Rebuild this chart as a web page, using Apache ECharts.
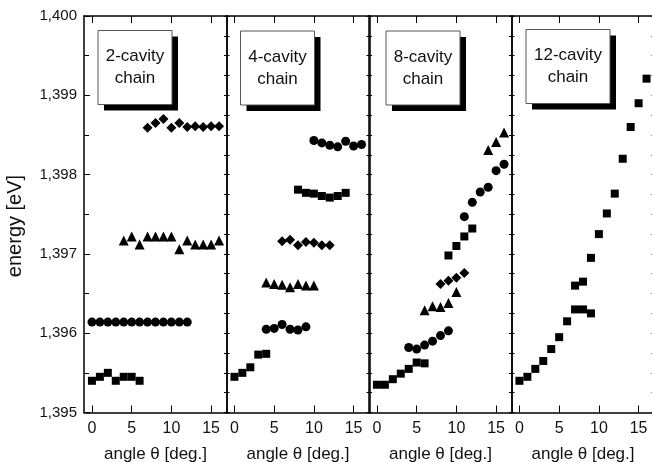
<!DOCTYPE html>
<html>
<head>
<meta charset="utf-8">
<script src="https://cdn.jsdelivr.net/npm/echarts@6/dist/echarts.min.js"></script>
<style>
  html, body { margin: 0; padding: 0; background: #fff; }
  #chart { width: 652px; height: 462px; }
</style>
</head>
<body>
<div id="chart"></div>
<script>
(function() {
    var font = "'Liberation Sans', Arial, sans-serif";
    var ink = '#111';

    // --- data: [angle, energy] ---
    var xTicks = [0, 5, 10, 15];
    var yTicks = [1.395, 1.396, 1.397, 1.398, 1.399, 1.400];
    var panelLabels = ['2-cavity\nchain', '4-cavity\nchain', '8-cavity\nchain', '12-cavity\nchain'];

    // 2-cavity chain
    var c2Square = [[0, 1.3954], [1, 1.39545], [2, 1.3955], [3, 1.3954], [4, 1.39545], [5, 1.39545], [6, 1.3954]];
    var c2Circle = [[0, 1.39614], [1, 1.39614], [2, 1.39614], [3, 1.39614], [4, 1.39614], [5, 1.39614], [6, 1.39614],
                    [7, 1.39614], [8, 1.39614], [9, 1.39614], [10, 1.39614], [11, 1.39614], [12, 1.39614]];
    var c2Triangle = [[4, 1.39717], [5, 1.39722], [6, 1.39712], [7, 1.39722], [8, 1.39722], [9, 1.39722], [10, 1.39722],
                      [11, 1.39706], [12, 1.39717], [13, 1.39712], [14, 1.39712], [15, 1.39712], [16, 1.39717]];
    var c2Diamond = [[7, 1.39859], [8, 1.39865], [9, 1.3987], [10, 1.39859], [11, 1.39865], [12, 1.3986],
                     [13, 1.39861], [14, 1.3986], [15, 1.39861], [16, 1.39861]];

    // 4-cavity chain
    var c4Square = [[0, 1.39545], [1, 1.3955], [2, 1.39557], [3, 1.39573], [4, 1.39574]];
    var c4Circle = [[4, 1.39605], [5, 1.39606], [6, 1.39611], [7, 1.39605], [8, 1.39604], [9, 1.39608]];
    var c4Triangle = [[4, 1.39664], [5, 1.39662], [6, 1.39661], [7, 1.39658], [8, 1.39662], [9, 1.3966], [10, 1.3966]];
    var c4Diamond = [[6, 1.39716], [7, 1.39718], [8, 1.39711], [9, 1.39715], [10, 1.39714], [11, 1.39711], [12, 1.39711]];
    var c4SquareHi = [[8, 1.39781], [9, 1.39777], [10, 1.39776], [11, 1.39773], [12, 1.39771], [13, 1.39773], [14, 1.39777]];
    var c4CircleHi = [[10, 1.39843], [11, 1.3984], [12, 1.39837], [13, 1.39835], [14, 1.39842], [15, 1.39836], [16, 1.39838]];

    // 8-cavity chain
    var c8Square = [[0, 1.39535], [1, 1.39535], [2, 1.39542], [3, 1.39549], [4, 1.39555], [5, 1.39563], [6, 1.39562]];
    var c8Circle = [[4, 1.39582], [5, 1.3958], [6, 1.39585], [7, 1.3959], [8, 1.39597], [9, 1.39603]];
    var c8Triangle = [[6, 1.39629], [7, 1.39634], [8, 1.39633], [9, 1.39638], [10, 1.39652]];
    var c8Diamond = [[8, 1.39662], [9, 1.39666], [10, 1.3967], [11, 1.39676]];
    var c8SquareHi = [[9, 1.39698], [10, 1.3971], [11, 1.39722], [12, 1.39732]];
    var c8CircleHi = [[11, 1.39747], [12, 1.39765], [13, 1.39778], [14, 1.39784], [15, 1.39805], [16, 1.39813]];
    var c8TriangleHi = [[14, 1.39831], [15, 1.39841], [16, 1.39853]];

    // 12-cavity chain
    var c12Square = [[0, 1.3954], [1, 1.39545], [2, 1.39555], [3, 1.39565], [4, 1.3958], [5, 1.39595],
                     [6, 1.39615], [7, 1.3963], [8, 1.3963], [9, 1.39625]];
    var c12SquareHi = [[7, 1.3966], [8, 1.39665], [9, 1.39695], [10, 1.39725], [11, 1.39751], [12, 1.39776],
                       [13, 1.3982], [14, 1.3986], [15, 1.3989], [16, 1.39921]];

    var panelSeries = [
        [['rect', c2Square], ['circle', c2Circle], ['triangle', c2Triangle], ['diamond', c2Diamond]],
        [['rect', c4Square], ['circle', c4Circle], ['triangle', c4Triangle], ['diamond', c4Diamond],
         ['rect', c4SquareHi], ['circle', c4CircleHi]],
        [['rect', c8Square], ['circle', c8Circle], ['triangle', c8Triangle], ['diamond', c8Diamond],
         ['rect', c8SquareHi], ['circle', c8CircleHi], ['triangle', c8TriangleHi]],
        [['rect', c12Square], ['rect', c12SquareHi]]
    ];

    var symbolSizes = { rect: 8, circle: 9, triangle: 10, diamond: 10 };

    // --- layout ---
    var panelLeft = [84, 226.5, 369, 511.5];
    var panelW = 143;
    var top = 16, plotH = 396.5;
    var boxes = [[98, 30.5, 74], [240.5, 31, 74], [386, 31, 74], [526, 29.5, 84]];

    var axisLine = { show: true, onZero: false, lineStyle: { color: '#000', width: 1.5 } };

    var grids = [], xAxes = [], yAxes = [], series = [], graphic = [];

    panelLeft.forEach(function(left, i) {
        grids.push({ left: left, top: top, width: panelW, height: plotH, outerBoundsMode: 'none', containLabel: false });

        xAxes.push({
            gridIndex: i, type: 'value', min: -1, max: 17, position: 'bottom',
            axisLine: axisLine,
            axisTick: { inside: true, length: 7, customValues: xTicks, lineStyle: { color: '#000' } },
            axisLabel: { customValues: xTicks, color: ink, fontFamily: font, fontSize: 16, margin: 8 },
            splitLine: { show: false },
            name: 'angle θ [deg.]', nameLocation: 'middle', nameGap: 33,
            nameTextStyle: { color: ink, fontFamily: font, fontSize: 17 }
        });
        xAxes.push({
            gridIndex: i, type: 'value', min: -1, max: 17, position: 'top',
            axisLine: axisLine,
            axisTick: { inside: true, length: 7, customValues: xTicks, lineStyle: { color: '#000' } },
            axisLabel: { show: false },
            splitLine: { show: false }
        });

        yAxes.push({
            gridIndex: i, type: 'value', min: 1.395, max: 1.4, interval: 0.001, position: 'left',
            axisLine: axisLine,
            axisTick: { inside: true, length: i === 0 ? 6 : 3, lineStyle: { color: '#000' } },
            minorTick: { show: true, splitNumber: i === 0 ? 2 : 4, length: i === 0 ? 5 : 3, lineStyle: { color: '#000' } },
            axisLabel: {
                show: i === 0, customValues: yTicks, color: ink, fontFamily: font, fontSize: 15, margin: 7,
                formatter: function(v) { return v.toFixed(3).replace('.', ','); }
            },
            splitLine: { show: false }
        });
        yAxes.push({
            gridIndex: i, type: 'value', min: 1.395, max: 1.4, interval: 0.001, position: 'right',
            axisLine: axisLine,
            axisTick: { inside: true, length: 3, lineStyle: { color: '#000' } },
            minorTick: { show: true, splitNumber: 4, length: 3, lineStyle: { color: '#000' } },
            axisLabel: { show: false },
            splitLine: { show: false }
        });

        panelSeries[i].forEach(function(s) {
            series.push({
                type: 'scatter',
                xAxisIndex: i * 2,
                yAxisIndex: i * 2,
                symbol: s[0],
                symbolSize: symbolSizes[s[0]],
                itemStyle: { color: '#000', opacity: 1 },
                data: s[1]
            });
        });

        var b = boxes[i];
        graphic.push({
            type: 'rect', shape: { x: b[0] + 6, y: b[1] + 6, width: b[2], height: 74 },
            style: { fill: '#000' }, z: 10
        });
        graphic.push({
            type: 'rect', shape: { x: b[0], y: b[1], width: b[2], height: 74 },
            style: { fill: '#fff', stroke: '#555', lineWidth: 1 }, z: 11
        });
        graphic.push({
            type: 'text', x: b[0] + b[2] / 2, y: b[1] + 37, z: 12,
            style: {
                text: panelLabels[i], fill: ink, font: '17px ' + font,
                align: 'center', verticalAlign: 'middle', lineHeight: 22
            }
        });
    });

    graphic.push({
        type: 'text', x: 15, y: 226, rotation: Math.PI / 2, z: 12,
        style: {
            text: 'energy [eV]', fill: ink, font: '20px ' + font,
            align: 'center', verticalAlign: 'middle'
        }
    });

    var chart = echarts.init(document.getElementById('chart'));
    chart.setOption({
        animation: false,
        backgroundColor: '#fff',
        grid: grids,
        xAxis: xAxes,
        yAxis: yAxes,
        series: series,
        graphic: graphic
    });
    window.addEventListener('resize', function() { chart.resize(); });
})();
</script>
</body>
</html>
